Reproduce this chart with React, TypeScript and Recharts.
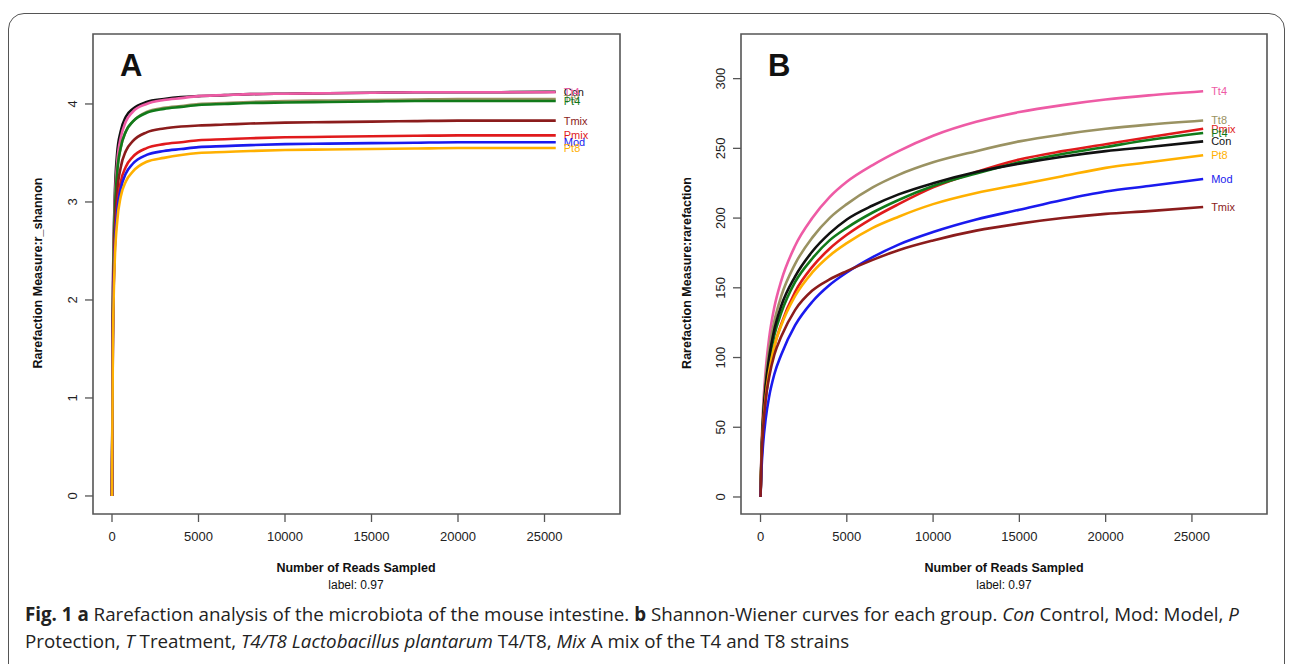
import React from "react";
import { LineChart, Line, XAxis, YAxis, ReferenceArea, LabelList } from "recharts";

// sampling depths (reads) shared by every curve
const reads = [0, 50, 150, 300, 500, 800, 1200, 2000, 3000, 4000, 5000, 6500, 8000, 10000, 12500, 15000, 17500, 20000, 22500, 25650];
const readTicks = [0, 5000, 10000, 15000, 20000, 25000];

// panel A: r_shannon
const shannonTt4 = [0, 1.9, 2.9, 3.4, 3.65, 3.82, 3.92, 4.0, 4.04, 4.06, 4.08, 4.09, 4.1, 4.105, 4.11, 4.115, 4.12, 4.12, 4.12, 4.12];
const shannonCon = [0, 2.0, 3.0, 3.5, 3.72, 3.87, 3.95, 4.02, 4.05, 4.07, 4.08, 4.09, 4.1, 4.105, 4.11, 4.115, 4.12, 4.12, 4.12, 4.125];
const shannonTt8 = [0, 1.8, 2.8, 3.3, 3.55, 3.72, 3.82, 3.92, 3.96, 3.98, 4.0, 4.01, 4.02, 4.03, 4.035, 4.04, 4.045, 4.05, 4.05, 4.05];
const shannonPt4 = [0, 1.8, 2.8, 3.3, 3.55, 3.72, 3.82, 3.91, 3.95, 3.97, 3.99, 4.0, 4.01, 4.015, 4.02, 4.025, 4.03, 4.03, 4.03, 4.03];
const shannonTmix = [0, 1.7, 2.6, 3.1, 3.35, 3.52, 3.62, 3.71, 3.75, 3.77, 3.78, 3.79, 3.8, 3.81, 3.815, 3.82, 3.825, 3.83, 3.83, 3.83];
const shannonPmix = [0, 1.6, 2.5, 2.95, 3.2, 3.36, 3.46, 3.55, 3.59, 3.61, 3.63, 3.64, 3.65, 3.66, 3.665, 3.67, 3.675, 3.68, 3.68, 3.68];
const shannonMod = [0, 1.6, 2.45, 2.9, 3.13, 3.29, 3.39, 3.48, 3.52, 3.54, 3.56, 3.57, 3.58, 3.59, 3.595, 3.6, 3.605, 3.61, 3.61, 3.61];
const shannonPt8 = [0, 1.5, 2.35, 2.8, 3.05, 3.21, 3.31, 3.41, 3.45, 3.48, 3.5, 3.51, 3.52, 3.53, 3.535, 3.54, 3.545, 3.55, 3.55, 3.55];
const shannonTicks = [0, 1, 2, 3, 4];

// panel B: rarefaction (observed OTUs)
const rareTt4 = [0, 31, 64, 91, 114, 136, 155, 180, 200, 215, 226, 238, 248, 259, 269, 276, 281, 285, 288, 291];
const rareTt8 = [0, 29, 59, 85, 106, 126, 144, 167, 186, 200, 210, 222, 231, 240, 248, 255, 260, 264, 267, 270];
const rarePmix = [0, 22, 48, 70, 89, 108, 124, 147, 165, 178, 188, 200, 210, 222, 233, 242, 248, 253, 258, 264];
const rarePt4 = [0, 26, 55, 78, 97, 116, 132, 154, 171, 184, 193, 204, 213, 223, 232, 240, 246, 251, 256, 261];
const rareCon = [0, 27, 56, 80, 100, 120, 137, 158, 176, 189, 199, 209, 217, 225, 233, 239, 244, 248, 251, 255];
const rarePt8 = [0, 24, 50, 72, 90, 108, 123, 144, 161, 173, 182, 193, 201, 210, 218, 224, 230, 236, 240, 245];
const rareMod = [0, 18, 38, 56, 72, 88, 102, 123, 140, 152, 161, 172, 181, 190, 199, 206, 213, 219, 223, 228];
const rareTmix = [0, 24, 49, 70, 86, 102, 115, 134, 148, 156, 162, 170, 177, 184, 191, 196, 200, 203, 205, 208];
const rareTicks = [0, 50, 100, 150, 200, 250, 300];

const colors: Record<string, string> = {
  Tt4: "#ee5ba5",
  Tt8: "#9a9262",
  Pmix: "#e01a1c",
  Pt4: "#117a1a",
  Con: "#111111",
  Pt8: "#ffb000",
  Mod: "#1a1aee",
  Tmix: "#8b1c1c",
};

const shannonSeries: [string, number[]][] = [
  ["Con", shannonCon],
  ["Tt4", shannonTt4],
  ["Tt8", shannonTt8],
  ["Pt4", shannonPt4],
  ["Tmix", shannonTmix],
  ["Pmix", shannonPmix],
  ["Mod", shannonMod],
  ["Pt8", shannonPt8],
];

const rareSeries: [string, number[]][] = [
  ["Tt4", rareTt4],
  ["Tt8", rareTt8],
  ["Pmix", rarePmix],
  ["Pt4", rarePt4],
  ["Con", rareCon],
  ["Pt8", rarePt8],
  ["Mod", rareMod],
  ["Tmix", rareTmix],
];

function buildRows(series: [string, number[]][]) {
  return reads.map((n, i) => {
    const row: Record<string, number> = { reads: n };
    series.forEach(([name, vals]) => (row[name] = vals[i]));
    return row;
  });
}

const FONT = "'Liberation Sans', Arial, sans-serif";
const AXIS = "#555";
const last = reads.length - 1;

const YTick = (props: any) => {
  const { x, y, payload } = props;
  const bx = x - 6;
  return (
    <text x={bx} y={y} transform={`rotate(-90 ${bx} ${y})`} textAnchor="middle" fontSize={13} fontFamily={FONT} fill="#222">
      {payload.value}
    </text>
  );
};

function endLabel(name: string) {
  return (props: any) => {
    if (props.index !== last) return null;
    return (
      <text x={props.x + 8} y={props.y + 4} fontSize={11} fontFamily={FONT} fill={colors[name]}>
        {name}
      </text>
    );
  };
}

function Panel({
  series,
  xDomain,
  yDomain,
  yTicks,
  margin,
  width,
}: {
  series: [string, number[]][];
  xDomain: [number, number];
  yDomain: [number, number];
  yTicks: number[];
  margin: { top: number; right: number; bottom: number; left: number };
  width: number;
}) {
  const rows = buildRows(series);
  return (
    <LineChart width={width} height={600} data={rows} margin={margin}>
      <XAxis
        dataKey="reads"
        type="number"
        domain={xDomain}
        allowDataOverflow
        ticks={readTicks}
        height={40}
        axisLine={false}
        tickLine={{ stroke: AXIS, strokeWidth: 1.3 }}
        tickSize={8}
        tickMargin={10}
        tick={{ fontSize: 13, fontFamily: FONT, fill: "#222" }}
        interval={0}
      />
      <YAxis
        type="number"
        domain={yDomain}
        allowDataOverflow
        ticks={yTicks}
        width={60}
        axisLine={false}
        tickLine={{ stroke: AXIS, strokeWidth: 1.3 }}
        tickSize={8}
        tick={<YTick />}
        interval={0}
      />
      <ReferenceArea
        x1={xDomain[0]}
        x2={xDomain[1]}
        y1={yDomain[0]}
        y2={yDomain[1]}
        fill="none"
        stroke={AXIS}
        strokeWidth={1.6}
        ifOverflow="visible"
      />
      {series.map(([name]) => (
        <Line
          key={name}
          dataKey={name}
          type="monotone"
          stroke={colors[name]}
          strokeWidth={2.6}
          dot={false}
          isAnimationActive={false}
        >
          <LabelList dataKey={name} content={endLabel(name)} />
        </Line>
      ))}
    </LineChart>
  );
}

const titleStyle: React.CSSProperties = {
  position: "absolute",
  fontFamily: FONT,
  fontWeight: "bold",
  fontSize: 12.5,
  color: "#111",
  whiteSpace: "nowrap",
};

export default function App() {
  return (
    <div style={{ position: "absolute", left: 0, top: 0, width: 1293, height: 664, background: "#fff", overflow: "hidden" }}>
      <div
        style={{
          position: "absolute",
          left: 8,
          top: 13,
          width: 1275,
          height: 680,
          border: "1.5px solid #555",
          borderRadius: 16,
        }}
      />
      <div style={{ position: "absolute", left: 0, top: 0 }}>
        <Panel
          series={shannonSeries}
          xDomain={[-1098, 29364]}
          yDomain={[-0.184, 4.714]}
          yTicks={shannonTicks}
          margin={{ top: 34, right: 30, bottom: 46, left: 33 }}
          width={650}
        />
      </div>
      <div style={{ position: "absolute", left: 650, top: 0 }}>
        <Panel
          series={rareSeries}
          xDomain={[-1131, 29350]}
          yDomain={[-12.2, 332]}
          yTicks={rareTicks}
          margin={{ top: 34, right: 26, bottom: 46, left: 31 }}
          width={643}
        />
      </div>

      {/* panel letters */}
      <div style={{ ...titleStyle, left: 120, top: 48, fontSize: 31 }}>A</div>
      <div style={{ ...titleStyle, left: 768, top: 48, fontSize: 31 }}>B</div>

      {/* axis titles */}
      <div style={{ ...titleStyle, left: 256, width: 200, textAlign: "center", top: 561 }}>Number of Reads Sampled</div>
      <div style={{ ...titleStyle, left: 256, width: 200, textAlign: "center", top: 578, fontWeight: "normal", fontSize: 12 }}>label: 0.97</div>
      <div style={{ ...titleStyle, left: 904, width: 200, textAlign: "center", top: 561 }}>Number of Reads Sampled</div>
      <div style={{ ...titleStyle, left: 904, width: 200, textAlign: "center", top: 578, fontWeight: "normal", fontSize: 12 }}>label: 0.97</div>
      <div style={{ ...titleStyle, left: 38 - 110, top: 274 - 8, width: 220, textAlign: "center", transform: "rotate(-90deg)" }}>
        Rarefaction Measure:r_shannon
      </div>
      <div style={{ ...titleStyle, left: 687 - 110, top: 274 - 8, width: 220, textAlign: "center", transform: "rotate(-90deg)" }}>
        Rarefaction Measure:rarefaction
      </div>

      {/* caption */}
      <div
        style={{
          position: "absolute",
          left: 25,
          top: 600,
          fontFamily: "'Open Sans', sans-serif",
          fontSize: 18.75,
          lineHeight: "27px",
          color: "#222",
          whiteSpace: "nowrap",
        }}
      >
        <b>Fig. 1 a</b> Rarefaction analysis of the microbiota of the mouse intestine. <b>b</b> Shannon-Wiener curves for each group. <i>Con</i> Control, Mod: Model, <i>P</i>
        <br />
        Protection, <i>T</i> Treatment, <i>T4/T8 Lactobacillus plantarum</i> T4/T8, <i>Mix</i> A mix of the T4 and T8 strains
      </div>
    </div>
  );
}
